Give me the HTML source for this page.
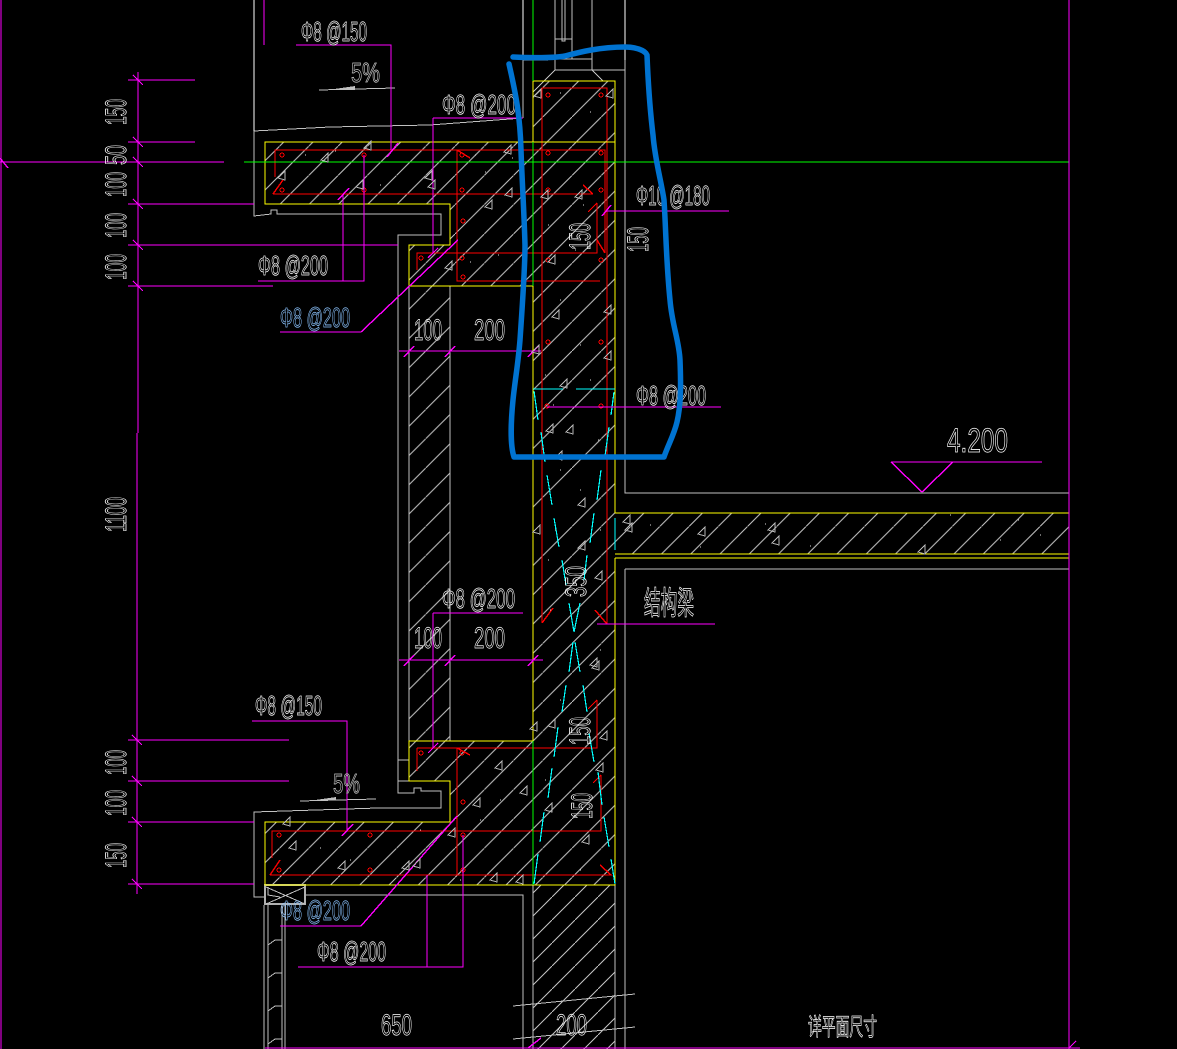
<!DOCTYPE html>
<html><head><meta charset="utf-8"><style>
html,body{margin:0;padding:0;background:#000;width:1177px;height:1049px;overflow:hidden}
svg{display:block}
text{font-family:"Liberation Sans","Noto Sans CJK SC",sans-serif;font-size:30px;fill:none;stroke:#fff;stroke-width:.8}
text.b{stroke:#8cc4ff}
text.g{stroke:#c8c8c8}
.m{stroke:#f0f;fill:none;stroke-width:1.4}
.y{stroke:#ff0;fill:none;stroke-width:1.4}
.r{stroke:#f00;fill:none;stroke-width:1.4}
.c{stroke:#0ff;fill:none;stroke-width:1.2}
.w{stroke:#c0c0c0;fill:none;stroke-width:1}
.crisp{shape-rendering:crispEdges}
</style></head><body>
<svg width="1177" height="1049" viewBox="0 0 1177 1049" xmlns="http://www.w3.org/2000/svg">
<defs>
<pattern id="h" patternUnits="userSpaceOnUse" width="29.25" height="29.25" patternTransform="translate(16.25,0)"><path d="M-1 30.25L30.25 -1" stroke="#c8c8c8" stroke-width="1"/></pattern>
<pattern id="h2" patternUnits="userSpaceOnUse" width="23" height="23"><path d="M-1 24L24 -1" stroke="#c8c8c8" stroke-width="1"/></pattern>
<symbol id="tr" overflow="visible"><path d="M0 0L7 -7L7 2Z" fill="none" stroke="#b8b8b8" stroke-width="1"/></symbol>
</defs>
<rect width="1177" height="1049" fill="#000"/>

<!-- hatches -->
<path fill="url(#h)" d="M533 81H615V513H1069V554H615V885H265V822H450V781H409V741H533V286H409V245H450V204H265V142H533Z"/>
<rect x="409" y="286" width="41" height="455" fill="url(#h)"/>
<rect x="533" y="885" width="82" height="164" fill="url(#h2)"/>
<path d="M533 478L615 396M533 536L615 454" stroke="#000" stroke-width="3" fill="none"/>

<g class="crisp">
<!-- grey outlines -->
<g class="w">
<path d="M254 131L330 127L430 125L523 118"/>
<path d="M254 131V216L271 214V210H277V214H441V235H398V793H414V788H421V791H441V808H378L254 812V897H265"/>
<path d="M409 245V741M450 286V741M398 760H409M398 781H409"/>
<path d="M523 60V118M523 60H548M555 0V70M572 0V59M592 0V70M555 59H592M555 39H572M562 0V41H565V0M555 70H625M555 70L533 92M592 70L603 81"/>
<path d="M625 60V493H1069M625 569H1069M625 569V1049M615 885V1049"/>
<path d="M533 885V1049"/>
<path d="M306 895H523V1049"/>
<path d="M264 905V1049M268 905V1049M282 905V1049M285 905V1049"/>
<path d="M268 945L275 940H282V936M268 978L275 973H282V969M268 1011L275 1006H282V1002M268 1044L275 1039H282V1035"/>
<path d="M513 1006L635 994M513 1039L635 1027"/>
<path d="M319 90L395 88"/>
<path d="M300 801L376 799"/>
</g>
<path d="M327 90L355 86V90Z M315 800L336 797V800Z" fill="#c0c0c0"/>
<path d="M523 0V60M625 0V60M254 0V131" stroke="#fff" stroke-width="1" fill="none"/>
<rect x="265" y="885" width="40" height="19" fill="none" stroke="#b0b0b0" stroke-width="2"/>
<path d="M266 887L305 904M266 904L305 887M268 887V895L280 897" stroke="#c0c0c0" stroke-width="1" fill="none"/>

<!-- red rebar -->
<g class="r">
<path d="M542 623V88H607V624"/>
<path d="M275 177V150H605V253"/>
<path d="M273 194H593"/>
<path d="M273 194L283 180"/>
<path d="M457 150V281H600"/>
<path d="M597 203V253H417V270"/>
<path d="M597 203L588 212M605 253L597 240"/>
<path d="M417 748H597V700M597 700L588 709M417 748V771"/>
<path d="M457 748V875"/>
<path d="M272 858V831H601V775M601 775L593 783"/>
<path d="M270 875H611L600 865M270 875L280 860"/>
<path d="M457 748L470 755M542 623L553 608M607 624L595 610M457 150L470 158"/>
<path d="M593 194L583 185"/>
</g>
<g fill="none" stroke="#f00" stroke-width="1">
<circle cx="548" cy="95" r="2"/><circle cx="601" cy="95" r="2"/>
<circle cx="282" cy="155" r="2"/><circle cx="364" cy="155" r="2"/><circle cx="462" cy="155" r="2"/><circle cx="548" cy="153" r="2"/><circle cx="601" cy="153" r="2"/>
<circle cx="282" cy="190" r="2"/><circle cx="364" cy="190" r="2"/><circle cx="462" cy="190" r="2"/><circle cx="548" cy="190" r="2"/><circle cx="601" cy="190" r="2"/>
<circle cx="463" cy="221" r="2"/><circle cx="421" cy="258" r="2"/><circle cx="462" cy="258" r="2"/><circle cx="548" cy="260" r="2"/><circle cx="601" cy="260" r="2"/><circle cx="463" cy="277" r="2"/>
<circle cx="548" cy="342" r="2"/><circle cx="601" cy="342" r="2"/><circle cx="547" cy="406" r="2"/><circle cx="601" cy="406" r="2"/>
<circle cx="421" cy="753" r="2"/><circle cx="462" cy="753" r="2"/><circle cx="463" cy="802" r="2"/>
<circle cx="279" cy="835" r="2"/><circle cx="370" cy="835" r="2"/><circle cx="463" cy="835" r="2"/>
<circle cx="279" cy="870" r="2"/><circle cx="370" cy="870" r="2"/><circle cx="463" cy="870" r="2"/>
</g>

<!-- yellow concrete outline -->
<g class="y">
<path d="M533 286V81H615V513M533 286H409V245H450V204H265V142H615"/>
<path d="M533 286V741H409V781H450V822H265V885H615V558"/>
<path d="M615 513H1069M615 554H1069M615 558H1069"/>
</g>

<!-- green -->
<g stroke="#0f0" stroke-width="1.4" fill="none">
<path d="M244 162H1069"/><path d="M533 0V81M533 142V286"/>
<path d="M533 741V885"/>
</g>

<!-- cyan -->
<g class="c">
<path d="M533 389H563M576 389H615"/>
<path d="M534 391L538 420M541 432L545 462M547 475L552 505M554 518L559 547M562 560L566 585M569 603L574 632"/>
<path d="M614 392L611 415M609 427L605 456M601 470L597 500M594 513L590 543M587 555L584 580M580 603L574 632"/>
<path d="M573 642L569 672M575 642L580 672M566 685L562 712M583 685L587 712"/>
<path d="M558 727L554 757M552 768L548 798M544 812L540 842M538 854L534 884"/>
<path d="M589 733L594 762M598 772L602 805M604 817L609 847M611 859L615 884"/>
<path d="M615 518V550"/>
</g>

<!-- magenta -->
<g class="m">
<path d="M1 0V1049"/>
<path d="M1069 0V1049"/>
<path d="M265 1048H1080"/>
<path d="M138 72V433M137 433V894"/>
<path d="M128 80H195M128 142H195M0 162H224M128 204H254M128 245H398M128 286H273"/>
<path d="M128 740H289M128 781H289M128 822H254M128 884H254"/>
<path d="M133 75L143 85M133 137L143 147M133 157L143 167M133 199L143 209M133 240L143 250M133 281L143 291M132 735L142 745M132 776L142 786M132 817L142 827M132 879L142 889M0 158L8 168"/>
<path d="M264 0V45"/>
<path d="M296 45H391V150M387 157L398 143"/>
<path d="M433 118H523M433 118V253M428 258L438 248"/>
<path d="M258 281H364V155M343 194V281M338 200L349 188"/>
<path d="M280 332H361L458 240"/>
<path d="M399 351H541M404 357L414 346M445 357L455 346M528 357L538 346"/>
<path d="M605 211H729M602 216L611 205"/>
<path d="M547 407H721"/>
<path d="M597 624H715"/>
<path d="M433 613H523M433 613V748M428 753L438 743"/>
<path d="M399 660H543M404 666L414 655M445 666L455 655M528 666L538 655"/>
<path d="M252 721H347V830M342 836L353 824"/>
<path d="M280 926H361L457 816"/>
<path d="M298 967H463V835M427 875V967"/>
<path d="M891 462H1042M891 462L922 492L953 462"/>
<path d="M1069 1048L1076 1041M528 1048L541 1038"/>
</g>

<!-- concrete triangles -->
<use href="#tr" x="321" y="160"/><use href="#tr" x="364" y="148"/><use href="#tr" x="278" y="178"/><use href="#tr" x="356" y="187"/>
<use href="#tr" x="425" y="178"/><use href="#tr" x="428" y="187"/><use href="#tr" x="504" y="152"/><use href="#tr" x="505" y="195"/>
<use href="#tr" x="534" y="96"/><use href="#tr" x="606" y="96"/><use href="#tr" x="541" y="197"/><use href="#tr" x="575" y="197"/>
<use href="#tr" x="485" y="207"/><use href="#tr" x="548" y="262"/><use href="#tr" x="445" y="268"/><use href="#tr" x="604" y="312"/>
<use href="#tr" x="552" y="317"/><use href="#tr" x="532" y="352"/><use href="#tr" x="604" y="358"/><use href="#tr" x="560" y="386"/>
<use href="#tr" x="546" y="431"/><use href="#tr" x="566" y="432"/><use href="#tr" x="533" y="532"/><use href="#tr" x="578" y="505"/>
<use href="#tr" x="555" y="458"/><use href="#tr" x="578" y="548"/><use href="#tr" x="595" y="578"/><use href="#tr" x="623" y="522"/>
<use href="#tr" x="625" y="530"/><use href="#tr" x="698" y="534"/><use href="#tr" x="768" y="530"/><use href="#tr" x="772" y="543"/>
<use href="#tr" x="918" y="552"/><use href="#tr" x="590" y="665"/><use href="#tr" x="592" y="668"/><use href="#tr" x="530" y="729"/>
<use href="#tr" x="548" y="726"/><use href="#tr" x="600" y="738"/><use href="#tr" x="596" y="770"/><use href="#tr" x="495" y="768"/>
<use href="#tr" x="520" y="793"/><use href="#tr" x="473" y="805"/><use href="#tr" x="545" y="810"/><use href="#tr" x="582" y="842"/>
<use href="#tr" x="289" y="848"/><use href="#tr" x="338" y="868"/><use href="#tr" x="402" y="868"/><use href="#tr" x="448" y="835"/>
<use href="#tr" x="413" y="866"/><use href="#tr" x="490" y="880"/><use href="#tr" x="516" y="882"/><use href="#tr" x="283" y="824"/>

<!-- small dots -->
<path d="M305 155h1M335 151h1M380 185h1M475 155h1M485 172h1M512 158h1M560 93h1M590 112h1M583 205h1M575 250h1M548 225h1M498 255h1M470 262h1M560 300h1M580 345h1M545 375h1M590 380h1M553 405h1M598 440h1M560 470h1M580 490h1M555 530h1M600 530h1M548 560h1M650 525h1M700 547h1M765 524h1M810 546h1M950 515h1M1000 540h1M1018 520h1M1040 535h1M550 610h1M600 650h1M560 700h1M545 780h1M590 800h1M500 800h1M480 820h1M320 848h1M420 830h1M350 860h1M460 880h1M580 870h1" stroke="#ddd" stroke-width="1"/>
</g>

<!-- text -->
<text x="301" y="41" textLength="66" lengthAdjust="spacingAndGlyphs" style="font-size:28px">Φ8 @150</text>
<text class="g" x="351" y="82" textLength="29" lengthAdjust="spacingAndGlyphs" style="font-size:28px">5%</text>
<text x="442" y="114" textLength="74" lengthAdjust="spacingAndGlyphs" style="font-size:28px">Φ8 @200</text>
<text x="636" y="205" textLength="74" lengthAdjust="spacingAndGlyphs" style="font-size:28px">Φ10 @180</text>
<text x="258" y="275" textLength="70" lengthAdjust="spacingAndGlyphs" style="font-size:28px">Φ8 @200</text>
<text class="b" x="280" y="327" textLength="70" lengthAdjust="spacingAndGlyphs" style="font-size:28px">Φ8 @200</text>
<text x="414" y="340" textLength="28" lengthAdjust="spacingAndGlyphs">100</text>
<text x="474" y="340" textLength="31" lengthAdjust="spacingAndGlyphs">200</text>
<text x="636" y="405" textLength="70" lengthAdjust="spacingAndGlyphs" style="font-size:28px">Φ8 @200</text>
<text x="947" y="452" textLength="61" lengthAdjust="spacingAndGlyphs" style="font-size:34px">4.200</text>
<text x="644" y="614" textLength="50" lengthAdjust="spacingAndGlyphs" style="font-size:32px">结构梁</text>
<text x="442" y="608" textLength="73" lengthAdjust="spacingAndGlyphs" style="font-size:28px">Φ8 @200</text>
<text x="414" y="648" textLength="28" lengthAdjust="spacingAndGlyphs">100</text>
<text x="474" y="648" textLength="31" lengthAdjust="spacingAndGlyphs">200</text>
<text x="255" y="715" textLength="67" lengthAdjust="spacingAndGlyphs" style="font-size:28px">Φ8 @150</text>
<text class="g" x="333" y="793" textLength="27" lengthAdjust="spacingAndGlyphs" style="font-size:28px">5%</text>
<text class="b" x="280" y="920" textLength="70" lengthAdjust="spacingAndGlyphs" style="font-size:28px">Φ8 @200</text>
<text x="317" y="961" textLength="69" lengthAdjust="spacingAndGlyphs" style="font-size:28px">Φ8 @200</text>
<text x="381" y="1035" textLength="31" lengthAdjust="spacingAndGlyphs">650</text>
<text x="556" y="1035" textLength="31" lengthAdjust="spacingAndGlyphs">200</text>
<text x="808" y="1035" textLength="69" lengthAdjust="spacingAndGlyphs" style="font-size:24px">详平面尺寸</text>

<!-- rotated text -->
<g style="font-size:30px">
<text transform="translate(126,125) rotate(-90)" textLength="26" lengthAdjust="spacingAndGlyphs">150</text>
<text transform="translate(126,165) rotate(-90)" textLength="20" lengthAdjust="spacingAndGlyphs">50</text>
<text transform="translate(126,197) rotate(-90)" textLength="25" lengthAdjust="spacingAndGlyphs">100</text>
<text transform="translate(126,238) rotate(-90)" textLength="25" lengthAdjust="spacingAndGlyphs">100</text>
<text transform="translate(126,280) rotate(-90)" textLength="26" lengthAdjust="spacingAndGlyphs">100</text>
<text transform="translate(126,532) rotate(-90)" textLength="35" lengthAdjust="spacingAndGlyphs">1100</text>
<text transform="translate(126,775) rotate(-90)" textLength="25" lengthAdjust="spacingAndGlyphs">100</text>
<text transform="translate(126,816) rotate(-90)" textLength="26" lengthAdjust="spacingAndGlyphs">100</text>
<text transform="translate(126,868) rotate(-90)" textLength="25" lengthAdjust="spacingAndGlyphs">150</text>
<text transform="translate(590,250) rotate(-90)" textLength="27" lengthAdjust="spacingAndGlyphs">150</text>
<text transform="translate(648,252) rotate(-90)" textLength="25" lengthAdjust="spacingAndGlyphs">150</text>
<text transform="translate(586,597) rotate(-90)" textLength="31" lengthAdjust="spacingAndGlyphs">350</text>
<text transform="translate(590,745) rotate(-90)" textLength="28" lengthAdjust="spacingAndGlyphs">150</text>
<text transform="translate(592,819) rotate(-90)" textLength="26" lengthAdjust="spacingAndGlyphs">150</text>
</g>

<!-- blue hand-drawn markup -->
<path d="M513 57C530 58 555 58 565 56C580 52 600 47 625 47C635 47 645 50 647 55C648 80 650 110 653 135C655 160 661 180 664 200C666 230 666 260 670 300C672 325 679 340 680 360C681 385 681 405 677 422C674 435 668 445 664 457L514 457C510 445 511 420 513 400C515 380 518 365 520 340C522 310 525 270 525 245C524 210 522 180 521 150C520 115 516 95 509 64" fill="none" stroke="#0073d1" stroke-width="5.500" stroke-linejoin="round" stroke-linecap="round"/>
</svg>
</body></html>
